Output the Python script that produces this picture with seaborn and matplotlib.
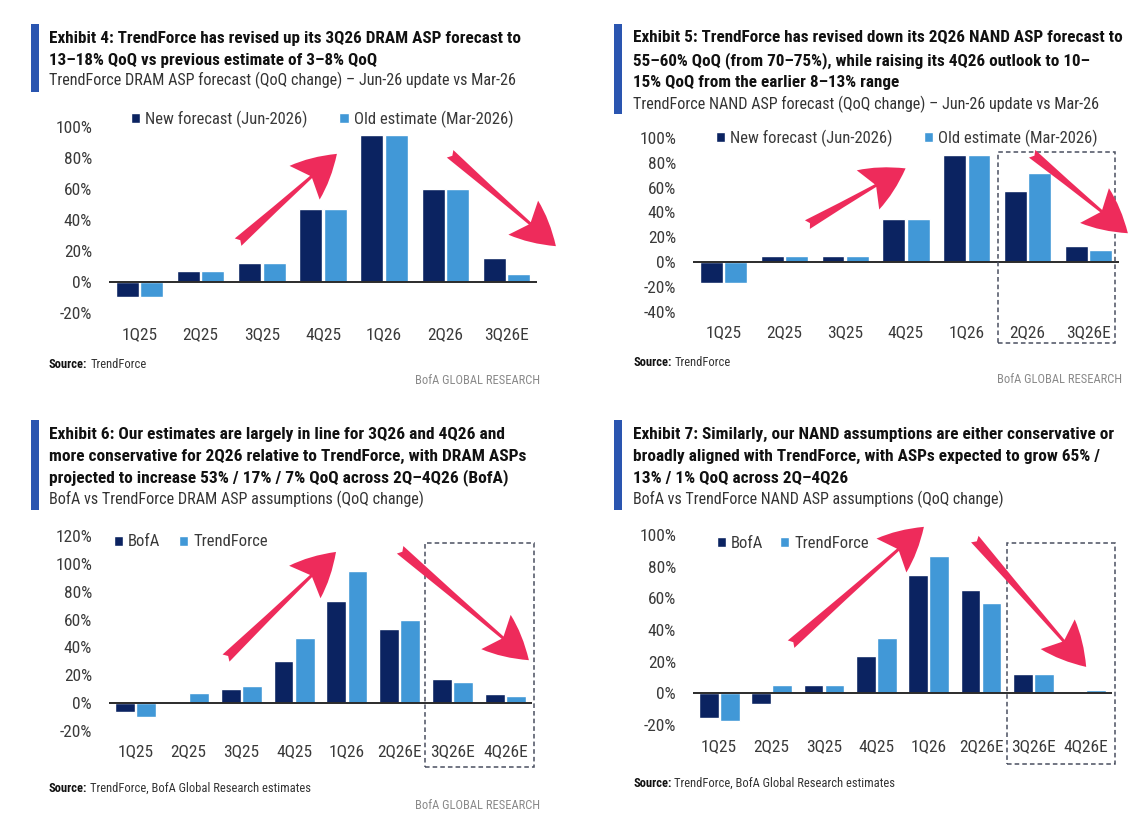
import matplotlib
matplotlib.use("Agg")
import matplotlib.pyplot as plt
import pandas as pd
import seaborn as sns
from matplotlib import font_manager
from matplotlib.patches import Rectangle, FancyArrowPatch

# ---- data (QoQ ASP change, %) ----
quarters_a = ["1Q25", "2Q25", "3Q25", "4Q25", "1Q26", "2Q26", "3Q26E"]
quarters_b = ["1Q25", "2Q25", "3Q25", "4Q25", "1Q26", "2Q26E", "3Q26E", "4Q26E"]

dram_new = [-10, 7, 12, 47, 95, 60, 15.5]
dram_old = [-10, 7, 12, 47, 95, 60, 5]
nand_new = [-17, 5, 5, 35, 86, 57, 12.5]
nand_old = [-17, 5, 5, 35, 86, 71.5, 10]
dram_bofa = [-6, 1, 10, 30, 73, 53, 17, 6.5]
dram_tf = [-10, 7, 12, 47, 95, 60, 15, 5]
nand_bofa = [-15.5, -6.5, 5.5, 23.5, 74.5, 65, 12.5, 0.5]
nand_tf = [-17.5, 5, 5, 35, 87, 57, 12, 2]

series_revision = ["New forecast (Jun-2026)", "Old estimate (Mar-2026)"]
series_compare = ["BofA", "TrendForce"]

ticks_dram4 = [-20, 0, 20, 40, 60, 80, 100]
ticks_nand5 = [-40, -20, 0, 20, 40, 60, 80, 100]
ticks_dram6 = [-20, 0, 20, 40, 60, 80, 100, 120]
ticks_nand7 = [-20, 0, 20, 40, 60, 80, 100]

titles = [
    ["Exhibit 4: TrendForce has revised up its 3Q26 DRAM ASP forecast to",
     "13–18% QoQ vs previous estimate of 3–8% QoQ"],
    ["Exhibit 5: TrendForce has revised down its 2Q26 NAND ASP forecast to",
     "55–60% QoQ (from 70–75%), while raising its 4Q26 outlook to 10–",
     "15% QoQ from the earlier 8–13% range"],
    ["Exhibit 6: Our estimates are largely in line for 3Q26 and 4Q26 and",
     "more conservative for 2Q26 relative to TrendForce, with DRAM ASPs",
     "projected to increase 53% / 17% / 7% QoQ across 2Q–4Q26 (BofA)"],
    ["Exhibit 7: Similarly, our NAND assumptions are either conservative or",
     "broadly aligned with TrendForce, with ASPs expected to grow 65% /",
     "13% / 1% QoQ across 2Q–4Q26"],
]
subtitles = [
    "TrendForce DRAM ASP forecast (QoQ change) – Jun-26 update vs Mar-26",
    "TrendForce NAND ASP forecast (QoQ change) – Jun-26 update vs Mar-26",
    "BofA vs TrendForce DRAM ASP assumptions (QoQ change)",
    "BofA vs TrendForce NAND ASP assumptions (QoQ change)",
]
sources = ["TrendForce", "TrendForce",
           "TrendForce, BofA Global Research estimates",
           "TrendForce, BofA Global Research estimates"]

NAVY = "#0B2361"
LIGHT = "#4198D7"
PINK = "#EE2B5B"
HEADER = "#2A55B0"
TXT = "#3a3a3a"

sns.set_style("white")
installed = {f.name for f in font_manager.fontManager.ttflist}
COND = next((f for f in ["Roboto Condensed", "Liberation Sans Narrow", "Open Sans Condensed"]
             if f in installed), "Roboto")
plt.rcParams["font.family"] = [COND, "DejaVu Sans"]

W, H = 1142, 822
fig = plt.figure(figsize=(W / 100, H / 100), dpi=100)
renderer = fig.canvas.get_renderer()


def fx(x):
    return x / W


def fy(y):
    return 1 - y / H


def fit(t, right):
    bb = t.get_window_extent(renderer)
    t.set_fontsize(t.get_fontsize() * (right - bb.x0) / bb.width)
    return t.get_fontsize()


# layout per panel (pixels)
panels = [
    dict(q=quarters_a, a=dram_new, b=dram_old, names=series_revision, ticks=ticks_dram4,
         box=(109, 127, 537, 313), xpad=10.5, bar=(31, 24, 39, 92), tx=49,
         ys=[38, 60], sub_y=80, fit_line=0, fit_end=519, sub_end=515,
         leg=(131, 119), colsp=1.9, src_y=364, brand=(540, 381), dash=None,
         arrows=[((236, 244), (339, 152)), ((448, 152), (558, 248))]),
    dict(q=quarters_a, a=nand_new, b=nand_old, names=series_revision, ticks=ticks_nand5,
         box=(693, 138, 1119, 311.6), xpad=9.5, bar=(614, 24, 622, 114), tx=633,
         ys=[38, 61, 82], sub_y=104, fit_line=0, fit_end=1122, sub_end=1097,
         leg=(716, 138), colsp=1.85, src_y=362, brand=(1122, 379),
         dash=(998, 152, 1115, 343),
         arrows=[((805, 226), (908, 167)), ((1030, 152), (1130, 235))]),
    dict(q=quarters_b, a=dram_bofa, b=dram_tf, names=series_compare, ticks=ticks_dram6,
         box=(109, 536, 532, 731), xpad=9.2, bar=(31, 420, 39, 510), tx=49,
         ys=[434, 456, 478], sub_y=499, fit_line=1, fit_end=525, sub_end=423,
         leg=(114, 542), colsp=1.1, src_y=788, brand=(540, 805),
         dash=(425, 543, 534, 767),
         arrows=[((224, 660), (338, 550)), ((398, 548), (531, 662))]),
    dict(q=quarters_b, a=nand_bofa, b=nand_tf, names=series_compare, ticks=ticks_nand7,
         box=(693, 535, 1112, 725), xpad=9.9, bar=(614, 420, 622, 510), tx=633,
         ys=[434, 456, 478], sub_y=499, fit_line=0, fit_end=1114, sub_end=1005,
         leg=(717, 543), colsp=1.0, src_y=783, brand=None,
         dash=(1007, 543, 1115, 764),
         arrows=[((789, 646), (926, 525)), ((973, 537), (1088, 669))]),
]

for i, p in enumerate(panels):
    n = len(p["q"])
    l, t, r, b = p["box"]
    ax = fig.add_axes([fx(l), fy(b), (r - l) / W, (b - t) / H])
    df = pd.DataFrame({
        "quarter": list(p["q"]) * 2,
        "value": list(p["a"]) + list(p["b"]),
        "series": [p["names"][0]] * n + [p["names"][1]] * n,
    })
    sns.barplot(data=df, x="quarter", y="value", hue="series", palette=[NAVY, LIGHT],
                saturation=1, width=0.8, gap=0.06, ax=ax)
    ax.set_xlim(-0.5, n - 0.5)
    ax.set_ylim(p["ticks"][0], p["ticks"][-1])
    ax.set_yticks(p["ticks"])
    ax.set_yticklabels([f"{v}%" for v in p["ticks"]])
    ax.axhline(0, color="#2b2b2b", lw=1.4, zorder=5)
    sns.despine(ax=ax, left=True, bottom=True)
    ax.set_xlabel("")
    ax.set_ylabel("")
    ax.tick_params(length=0, labelsize=12.5, colors=TXT)
    ax.tick_params(axis="x", pad=p["xpad"])
    ax.tick_params(axis="y", pad=12.2)
    ax.patch.set_alpha(0)

    handles, labels = ax.get_legend_handles_labels()
    ax.legend(handles, labels, loc="center left", ncol=2, frameon=False,
              bbox_to_anchor=(fx(p["leg"][0]), fy(p["leg"][1])), bbox_transform=fig.transFigure,
              borderpad=0, borderaxespad=0, handlelength=0.55, handleheight=0.55,
              handletextpad=0.3, columnspacing=p["colsp"], fontsize=12, labelcolor=TXT)

    # header
    x0, y0, x1, y1 = p["bar"]
    fig.patches.append(Rectangle((fx(x0), fy(y1)), (x1 - x0) / W, (y1 - y0) / H,
                                 transform=fig.transFigure, color=HEADER, lw=0))
    lines = [fig.text(fx(p["tx"]), fy(y), s, fontsize=10, fontweight="bold",
                      color="#111111", va="center", ha="left")
             for s, y in zip(titles[i], p["ys"])]
    size = fit(lines[p["fit_line"]], p["fit_end"])
    for ln in lines:
        ln.set_fontsize(size)
    sub = fig.text(fx(p["tx"]), fy(p["sub_y"]), subtitles[i], fontsize=10,
                   color="#333333", va="center", ha="left")
    fit(sub, p["sub_end"])

    # source + brand
    s1 = fig.text(fx(p["tx"]), fy(p["src_y"]), "Source:", fontsize=9, fontweight="bold",
                  color="#111111", va="center")
    w = s1.get_window_extent(renderer).width
    fig.text(fx(p["tx"] + w + 3), fy(p["src_y"]), sources[i], fontsize=9,
             color="#333333", va="center")
    if p["brand"]:
        fig.text(fx(p["brand"][0]), fy(p["brand"][1]), "BofA GLOBAL RESEARCH", fontsize=9,
                 color="#8a8a8a", va="center", ha="right")

    if p["dash"]:
        d0, d1, d2, d3 = p["dash"]
        fig.patches.append(Rectangle((fx(d0), fy(d3)), (d2 - d0) / W, (d3 - d1) / H,
                                     transform=fig.transFigure, fill=False, ec="#4a5060",
                                     lw=1.1, ls=(0, (3, 2)), zorder=6))

    for (ax0, ay0), (ax1, ay1) in p["arrows"]:
        fig.patches.append(FancyArrowPatch(
            (fx(ax0), fy(ay0)), (fx(ax1), fy(ay1)), transform=fig.transFigure,
            arrowstyle="fancy,head_length=2.4,head_width=2.5,tail_width=0.55",
            mutation_scale=13, color=PINK, lw=0, zorder=10))

fig.savefig("out.png", dpi=100, facecolor="white")
